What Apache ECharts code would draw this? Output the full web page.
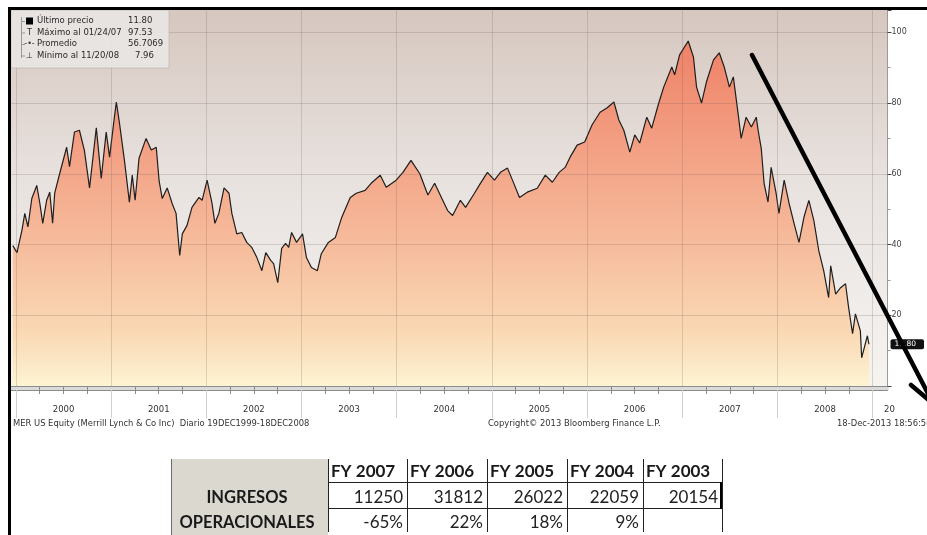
<!DOCTYPE html>
<html><head><meta charset="utf-8">
<script src="https://cdn.jsdelivr.net/npm/echarts@6/dist/echarts.min.js"></script>
<style>html,body{margin:0;padding:0;background:#fff}#c{width:927px;height:535px}</style>
</head><body><div id="c"></div>
<script>
// ---------- DATA ----------
const dates = [
'1999-12-20','2000-01-05','2000-01-24','2000-02-04','2000-02-16','2000-03-02','2000-03-21','2000-04-02','2000-04-13','2000-04-28',
'2000-05-10','2000-05-21','2000-05-29','2000-06-17','2000-07-14','2000-07-25','2000-08-13','2000-09-01','2000-09-20','2000-10-10',
'2000-11-05','2000-11-24','2000-12-13','2000-12-26','2001-01-13','2001-01-21','2001-02-02','2001-02-21','2001-03-12','2001-03-23',
'2001-04-03','2001-04-18','2001-05-15','2001-06-04','2001-06-23','2001-07-04','2001-07-16','2001-08-04','2001-08-23','2001-09-07',
'2001-09-21','2001-10-01','2001-10-19','2001-11-07','2001-12-04','2001-12-16','2002-01-04','2002-01-23','2002-02-03','2002-02-18',
'2002-03-10','2002-03-29','2002-04-09','2002-04-28','2002-05-17','2002-06-05','2002-06-24','2002-07-14','2002-08-02','2002-08-17',
'2002-09-05','2002-09-16','2002-10-02','2002-10-17','2002-11-01','2002-11-13','2002-11-24','2002-12-13','2003-01-05','2003-01-20',
'2003-02-08','2003-03-03','2003-03-18','2003-04-14','2003-05-11','2003-06-03','2003-07-07','2003-07-30','2003-09-02','2003-09-25',
'2003-10-30','2003-11-22','2003-12-30','2004-01-25','2004-02-25','2004-03-30','2004-04-30','2004-05-26','2004-06-26','2004-07-15',
'2004-08-03','2004-09-02','2004-09-22','2004-10-26','2004-11-18','2004-12-15','2005-01-11','2005-02-03','2005-03-02','2005-03-21',
'2005-04-17','2005-05-17','2005-06-24','2005-07-25','2005-08-21','2005-09-16','2005-10-09','2005-10-28','2005-11-24','2005-12-23',
'2006-01-20','2006-02-20','2006-03-18','2006-04-14','2006-05-03','2006-05-22','2006-06-14','2006-07-03','2006-07-22','2006-08-18',
'2006-09-06','2006-10-03','2006-10-22','2006-11-22','2006-12-03','2006-12-22','2007-01-24','2007-02-13','2007-02-25','2007-03-16',
'2007-04-04','2007-05-01','2007-05-23','2007-06-11','2007-07-01','2007-07-16','2007-08-04','2007-08-15','2007-09-03','2007-09-23',
'2007-10-12','2007-10-19','2007-10-31','2007-11-11','2007-11-26','2007-12-08','2007-12-27','2008-01-07','2008-01-27','2008-02-15',
'2008-03-05','2008-03-24','2008-04-12','2008-05-01','2008-05-20','2008-06-08','2008-06-27','2008-07-16','2008-07-24','2008-08-12',
'2008-08-31','2008-09-19','2008-10-01','2008-10-16','2008-10-27','2008-11-15','2008-11-20','2008-12-12','2008-12-18'];
const prices = [
39.7,37.7,44,48.8,45,53,56.7,51.6,46,52.5,
54.8,46,54.5,60,67.5,62,71.8,72.3,66.7,56,
73,58.7,71.8,64.7,75.7,80.3,74.3,63.8,52,59.6,
52.5,64.4,70,66.7,67.5,58,53,56,51.6,48.8,
36.9,43,45.4,50.5,53.3,52.5,58.2,51.6,46,48.8,
56,54.5,48.8,43,43.4,40.6,39.2,36.3,32.6,37.7,
35.5,34.6,29.2,38.9,40.3,39.2,43.4,40.6,43,36.3,
33.5,32.6,37.4,40.6,42,47.4,53.3,54.5,55.3,57.3,
59.6,56.2,58.2,60.4,63.8,60,54,57.3,52.5,49.6,
48.2,52.5,50.5,54.5,57.3,60.4,58.2,60.4,61.6,58.2,
53.3,54.8,55.9,59.6,57.6,60.4,61.8,64.7,68.1,69,
73.8,77.4,78.6,80.3,75.2,72.3,66.1,71,68.7,76,
72.9,80,84.5,90.2,88,93.6,97.53,93,84.5,80,
86,92.2,94.2,90.2,84.5,87.4,76.6,70,76,73.2,
76,72.3,67.2,57.3,52,61.8,54.5,48.8,58.2,51.6,
46,40.6,47.7,52.5,46.8,38.3,32.6,25,34,26,
27.8,28.9,22.1,14.8,20.4,15.6,7.96,14.2,11.8];
const yearTicks = [2000,2001,2002,2003,2004,2005,2006,2007,2008,2009];
const yearLabels = ['2000','2001','2002','2003','2004','2005','2006','2007','2008'];
const yGridValues = [20,40,60,80,100];
const yTickLabels = ['20','40','60','80','100'];
const lastPrice = [11.80];
const legendNames = ['Último precio','Máximo al 01/24/07','Promedio','Mínimo al 11/20/08'];
const legendValues = ['11.80','97.53','56.7069','7.96'];
const fyHeaders = ['FY 2007','FY 2006','FY 2005','FY 2004','FY 2003'];
const ingresos = ['11250','31812','26022','22059','20154'];
const variacion = ['-65%','22%','18%','9%',''];
const rowLabels = ['INGRESOS','OPERACIONALES'];
const footerLeft = 'MER US Equity (Merrill Lynch & Co Inc)  Diario 19DEC1999-18DEC2008';
const footerMid = 'Copyright\u00A9 2013 Bloomberg Finance L.P.';
const footerRight = '18-Dec-2013 18:56:50';
const partialYearLabel = '20';

// ---------- BUILD ----------
function toYear(d){
  const p = d.split('-').map(Number);
  const s = Date.UTC(p[0],0,1), e = Date.UTC(p[0]+1,0,1);
  return p[0] + (Date.UTC(p[0],p[1]-1,p[2]) - s)/(e - s);
}
const seriesData = dates.map((d,i)=>[toYear(d), prices[i]]);
const XMIN = 1999.948, XMAX = 2009.157;
const YMAX = 106.3;
const quarterTicks = [];
yearTicks.forEach((y,i)=>{ if(i<yearTicks.length-1){ [0.25,0.5,0.75].forEach(q=>quarterTicks.push(y+q)); } });
const labelPos = yearLabels.map((l,i)=>yearTicks[i]+0.5);

const LG = echarts.graphic.LinearGradient;
const chart = echarts.init(document.getElementById('c'));

const FONT_SM = 'DejaVu Sans';
const gfx = [];
// outer black frame
gfx.push({type:'rect', shape:{x:8,y:7,width:3,height:528}, style:{fill:'#000'}, z:200});
gfx.push({type:'rect', shape:{x:8,y:7,width:919,height:3}, style:{fill:'#000'}, z:200});
// legend box
gfx.push({type:'rect', shape:{x:11,y:10,width:158,height:58}, style:{fill:'rgba(232,229,227,0.93)', stroke:'rgba(190,184,180,0.7)', lineWidth:1}, z:50});
const legRows = [21,32.5,44,55.5];
gfx.push({type:'line', shape:{x1:21.5,y1:17,x2:21.5,y2:58}, style:{stroke:'#9a9a9a', lineWidth:1}, z:51});
legRows.forEach((ry,i)=>{
  gfx.push({type:'line', shape:{x1:21.5,y1:ry+0.5,x2:25,y2:ry+0.5}, style:{stroke:'#9a9a9a', lineWidth:1}, z:51});
  gfx.push({type:'text', style:{text:legendNames[i], x:37, y:ry, font:'8.5px '+FONT_SM, fill:'#2a2a2a', textAlign:'left', textVerticalAlign:'middle'}, z:52});
  gfx.push({type:'text', style:{text:legendValues[i], x:(i===3?135:128), y:ry, font:'8.5px '+FONT_SM, fill:'#2a2a2a', textAlign:'left', textVerticalAlign:'middle'}, z:52});
});
gfx.push({type:'rect', shape:{x:26,y:17.5,width:7,height:7}, style:{fill:'#000'}, z:52});
gfx.push({type:'text', style:{text:'T', x:29.5, y:legRows[1], font:'8px '+FONT_SM, fill:'#333', textAlign:'center', textVerticalAlign:'middle'}, z:52});
gfx.push({type:'text', style:{text:'-\u2022-', x:29.5, y:legRows[2], font:'8px '+FONT_SM, fill:'#333', textAlign:'center', textVerticalAlign:'middle'}, z:52});
gfx.push({type:'text', style:{text:'\u22A5', x:29.5, y:legRows[3], font:'8px '+FONT_SM, fill:'#333', textAlign:'center', textVerticalAlign:'middle'}, z:52});
// partial year label at right edge
gfx.push({type:'text', style:{text:partialYearLabel, x:884, y:410, font:'8.5px '+FONT_SM, fill:'#333', textAlign:'left', textVerticalAlign:'middle'}, z:20});
// footer texts
gfx.push({type:'text', style:{text:footerLeft, x:13, y:424, font:'8.4px '+FONT_SM, fill:'#333', textAlign:'left', textVerticalAlign:'middle'}, z:20});
gfx.push({type:'text', style:{text:footerMid, x:488, y:424, font:'8.4px '+FONT_SM, fill:'#333', textAlign:'left', textVerticalAlign:'middle'}, z:20});
gfx.push({type:'text', style:{text:footerRight, x:837, y:424, font:'8.4px '+FONT_SM, fill:'#333', textAlign:'left', textVerticalAlign:'middle'}, z:20});
// arrow
gfx.push({type:'line', shape:{x1:752,y1:55,x2:936,y2:409}, style:{stroke:'#000', lineWidth:4.5, lineCap:'round'}, z:150});
gfx.push({type:'line', shape:{x1:911,y1:385,x2:936,y2:406}, style:{stroke:'#000', lineWidth:4.5, lineCap:'round'}, z:150});
// table
const cols = [328,407,487,567,643,722];
const textY = [471.5,498,522.5];
const TF = 'Lato';
gfx.push({type:'rect', shape:{x:171,y:459,width:157,height:76}, style:{fill:'#dbd8d0'}, z:10});
gfx.push({type:'line', shape:{x1:171.5,y1:459,x2:171.5,y2:535}, style:{stroke:'#6a6a6a', lineWidth:1}, z:11});
cols.forEach((x,i)=>{
  gfx.push({type:'line', shape:{x1:x+0.5,y1:459,x2:x+0.5,y2:532}, style:{stroke:'#222', lineWidth:1}, z:11});
});
gfx.push({type:'line', shape:{x1:328,y1:482.5,x2:722,y2:482.5}, style:{stroke:'#222', lineWidth:1}, z:11});
gfx.push({type:'line', shape:{x1:328,y1:508.5,x2:722,y2:508.5}, style:{stroke:'#222', lineWidth:1}, z:11});
gfx.push({type:'line', shape:{x1:721,y1:482,x2:721,y2:509}, style:{stroke:'#000', lineWidth:2}, z:11});
fyHeaders.forEach((h,i)=>{
  gfx.push({type:'text', style:{text:h, x:cols[i]+3, y:textY[0], font:'bold 17px '+TF, fill:'#1a1a1a', textAlign:'left', textVerticalAlign:'middle'}, z:12});
  gfx.push({type:'text', style:{text:ingresos[i], x:cols[i+1]-4, y:textY[1], font:'17px '+TF, fill:'#222', textAlign:'right', textVerticalAlign:'middle'}, z:12});
  gfx.push({type:'text', style:{text:variacion[i], x:cols[i+1]-4, y:textY[2], font:'17px '+TF, fill:'#222', textAlign:'right', textVerticalAlign:'middle'}, z:12});
});
rowLabels.forEach((r,i)=>{
  gfx.push({type:'text', style:{text:r, x:247, y:textY[i+1], font:'bold 16.5px '+TF, fill:'#1a1a1a', textAlign:'center', textVerticalAlign:'middle'}, z:12});
});

const option = {
  animation:false,
  backgroundColor:'#ffffff',
  grid:{left:11, right:35, top:10, bottom:149, show:true, borderWidth:0,
    backgroundColor:new LG(0,0,0,1,[{offset:0,color:'#d6c7bf'},{offset:0.45,color:'#e8e2df'},{offset:0.8,color:'#f0edeb'},{offset:1,color:'#f6f4ef'}])},
  xAxis:[
    {type:'value', min:XMIN, max:XMAX, position:'bottom',
      axisLine:{show:true, onZero:false, lineStyle:{color:'#8c8c8c'}},
      axisTick:{show:true, customValues:quarterTicks, length:8, lineStyle:{color:'#8a8a8a'}},
      axisLabel:{customValues:labelPos, formatter:v=>yearLabels[Math.floor(v)-2000], fontSize:8.5, color:'#333', fontFamily:FONT_SM, margin:19},
      splitLine:{show:false}},
    {type:'value', min:XMIN, max:XMAX, position:'bottom', offset:2,
      axisLine:{show:true, onZero:false, lineStyle:{color:'#dadada', width:3}},
      axisTick:{show:false}, axisLabel:{show:false}, splitLine:{show:false}},
    {type:'value', min:XMIN, max:XMAX, position:'bottom', offset:4,
      axisLine:{show:true, onZero:false, lineStyle:{color:'#8c8c8c'}},
      axisTick:{show:true, customValues:yearTicks, length:28, lineStyle:{color:'#cfcfcf'}},
      axisLabel:{show:false}, splitLine:{show:false}}
  ],
  yAxis:[
    {type:'value', position:'right', min:0, max:YMAX, interval:20,
      axisLine:{show:true, lineStyle:{color:'#9a9a9a'}},
      axisTick:{show:true, length:4, lineStyle:{color:'#444'}},
      minorTick:{show:true, splitNumber:2, length:3, lineStyle:{color:'#999'}},
      axisLabel:{customValues:yGridValues, formatter:v=>yTickLabels[yGridValues.indexOf(v)], fontSize:8, color:'#444', fontFamily:FONT_SM, margin:4},
      splitLine:{show:false}},
    {type:'value', position:'right', min:0, max:YMAX,
      axisLine:{show:false}, axisTick:{show:false}, splitLine:{show:false},
      axisLabel:{customValues:lastPrice, formatter:v=>v.toFixed(2), color:'#fff', backgroundColor:'#111', padding:[1,8,1,4], fontSize:7.5, fontFamily:FONT_SM, margin:3, borderRadius:2}}
  ],
  series:[{
    type:'line', data:seriesData, showSymbol:false, symbol:'none', silent:true,
    lineStyle:{color:'#1e1e1e', width:1.2},
    areaStyle:{opacity:1, color:new LG(0,0,0,1,[{offset:0,color:'#ee8166'},{offset:0.3,color:'#f39f83'},{offset:0.6,color:'#f6bd9d'},{offset:0.85,color:'#fad9b5'},{offset:1,color:'#fdf4d3'}])},
    markLine:{silent:true, symbol:['none','none'], label:{show:false}, animation:false,
      lineStyle:{color:'rgba(110,92,82,0.22)', width:1, type:'solid'},
      data:[...yearTicks.map(v=>({xAxis:v})), ...yGridValues.map(v=>({yAxis:v}))]}
  }],
  graphic:{elements:gfx}
};
chart.setOption(option);
</script></body></html>
